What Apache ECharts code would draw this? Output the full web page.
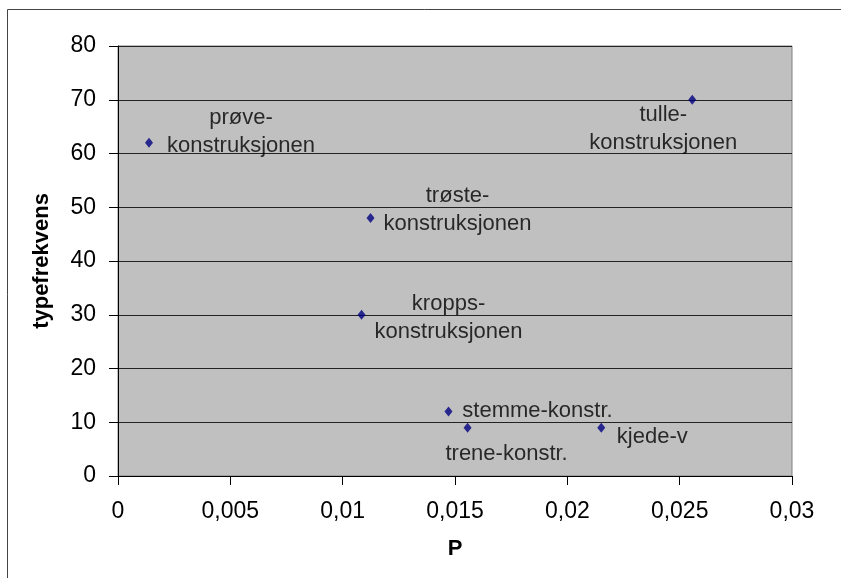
<!DOCTYPE html>
<html>
<head>
<meta charset="utf-8">
<script src="https://cdn.jsdelivr.net/npm/echarts@6/dist/echarts.min.js"></script>
<style>html,body{margin:0;padding:0;background:#fff;}#c{width:841px;height:578px;}</style>
</head>
<body>
<div id="c"></div>
<script>
// Data
var names = ['prøve-\nkonstruksjonen', 'tulle-\nkonstruksjonen', 'trøste-\nkonstruksjonen', 'kropps-\nkonstruksjonen', 'stemme-konstr.', 'trene-konstr.', 'kjede-v'];
var pValues = [0.00138, 0.02556, 0.01124, 0.01084, 0.01471, 0.01556, 0.02151];
var typeFreq = [62, 70, 48, 30, 12, 9, 9];
var xTickLabels = ['0', '0,005', '0,01', '0,015', '0,02', '0,025', '0,03'];
var yTickLabels = ['0', '10', '20', '30', '40', '50', '60', '70', '80'];

// Label placement (style only)
var labelOffsets = [[92, -11], [-29, 29], [87, -8], [87, 3], [89, -1], [39, 26], [51, 9]];

var FONT = '"Liberation Sans", Arial, sans-serif';
var chart = echarts.init(document.getElementById('c'), null, {renderer: 'canvas'});

var seriesData = names.map(function (n, i) {
  return {name: n, value: [pValues[i], typeFreq[i]]};
});

chart.setOption({
  animation: false,
  backgroundColor: '#ffffff',
  graphic: [{
    type: 'rect',
    shape: {x: 7.5, y: 9.5, width: 1000, height: 1000},
    style: {fill: 'none', stroke: '#444', lineWidth: 1},
    silent: true,
    z: -1
  }],
  grid: {
    left: 118, top: 46, right: 49, bottom: 102,
    show: true, backgroundColor: '#c0c0c0', borderColor: '#808080', borderWidth: 1
  },
  xAxis: {
    type: 'value', min: 0, max: 0.03, interval: 0.005,
    name: 'P', nameLocation: 'middle', nameGap: 62,
    nameTextStyle: {fontFamily: FONT, fontSize: 22, fontWeight: 'bold', color: '#000'},
    axisLine: {show: true, onZero: false, lineStyle: {color: '#000', width: 1}},
    axisTick: {show: true, length: 9, inside: false, lineStyle: {color: '#000'}},
    axisLabel: {
      margin: 24, fontFamily: FONT, fontSize: 23, color: '#000',
      formatter: function (v) { return xTickLabels[Math.round(v / 0.005)]; }
    },
    splitLine: {show: false}
  },
  yAxis: {
    type: 'value', min: 0, max: 80, interval: 10,
    name: 'typefrekvens', nameLocation: 'middle', nameGap: 65, nameRotate: 90,
    nameTextStyle: {fontFamily: FONT, fontSize: 22, fontWeight: 'bold', color: '#000'},
    axisLine: {show: true, onZero: false, lineStyle: {color: '#000', width: 1}},
    axisTick: {show: true, length: 9, inside: false, lineStyle: {color: '#000'}},
    axisLabel: {
      margin: 22, fontFamily: FONT, fontSize: 23, color: '#000',
      formatter: function (v) { return yTickLabels[Math.round(v / 10)]; }
    },
    splitLine: {show: true, lineStyle: {color: '#222', width: 1}}
  },
  series: [{
    type: 'scatter',
    symbol: 'diamond',
    symbolSize: [8, 10],
    itemStyle: {color: '#000080'},
    data: seriesData,
    label: {
      show: true,
      position: 'inside',
      align: 'center',
      verticalAlign: 'middle',
      lineHeight: 28,
      fontFamily: FONT,
      fontSize: 22,
      color: '#000',
      textBorderWidth: 0,
      formatter: function (p) { return p.name; }
    },
    labelLayout: function (params) {
      var o = labelOffsets[params.dataIndex];
      return {dx: o[0], dy: o[1], hideOverlap: false};
    }
  }]
});
</script>
</body>
</html>
